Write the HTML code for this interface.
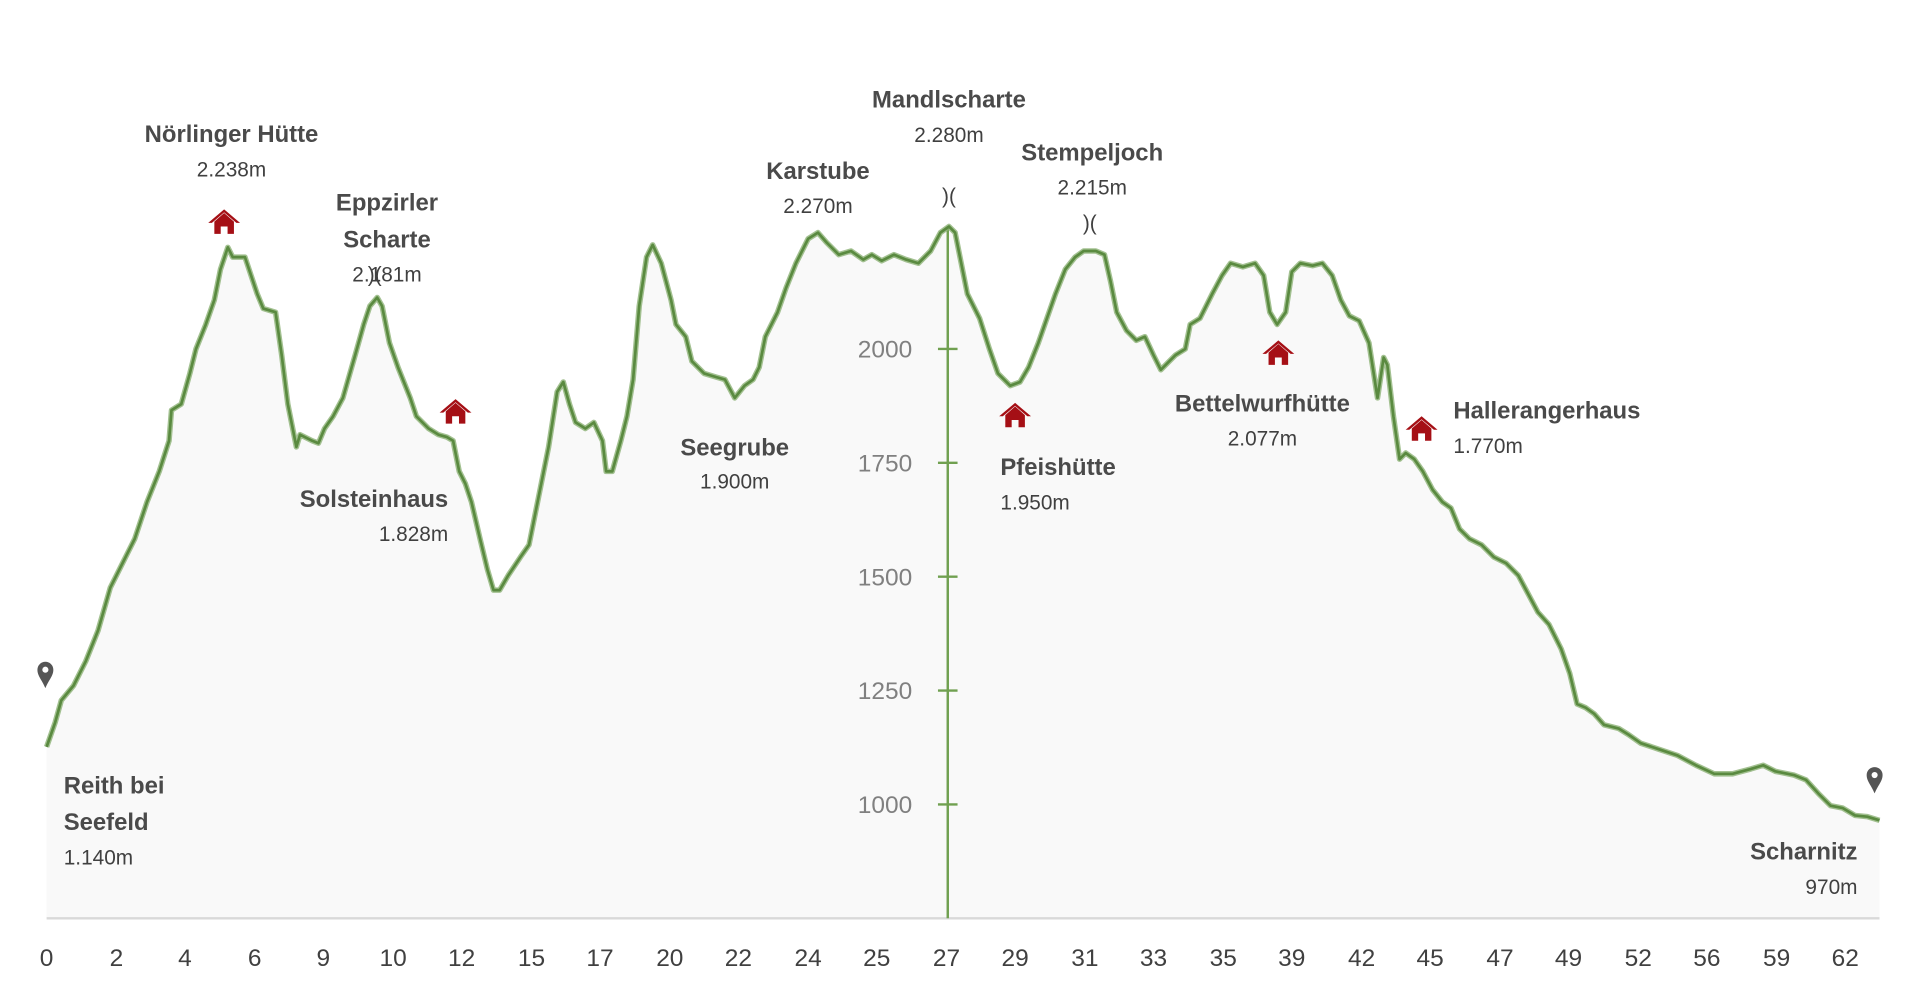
<!DOCTYPE html>
<html><head><meta charset="utf-8"><style>
html,body{margin:0;padding:0;background:#fff;}
svg{display:block;}
text{font-family:"Liberation Sans",sans-serif;}
.b{font-weight:bold;font-size:19.5px;fill:#4a4a4a;}
.v{font-size:17px;fill:#404040;}
.x{font-size:20px;fill:#404040;text-anchor:middle;}
.y{font-size:20px;fill:#808080;text-anchor:end;}
</style></head><body>
<svg width="1920" height="1004" viewBox="0 0 1568 820" xmlns="http://www.w3.org/2000/svg">
<defs>
<g id="h"><polygon points="-13,0 0,-11 13,0 10,0 0,-8.5 -10,0" fill="#a50f15"/><path d="M-8,-1 L0,-8 L8,-1 L8,9 L2.8,9 L2.8,3 L-2.8,3 L-2.8,9 L-8,9Z" fill="#a50f15"/></g>
<g id="p"><path d="M0,12 C-3,5 -6.5,2 -6.5,-3 A6.5,6.5 0 0 1 6.5,-3 C6.5,2 3,5 0,12Z" fill="#555"/><circle cx="0" cy="-3" r="2.5" fill="#fff"/></g>
</defs>
<polygon fill="#f9f9f9" points="38,750 38,610 45,590 50,572 60,560 70,540 80,515 90,480 100,460 110,440 120,410 130,385 138,360 140,335 148,330 155,305 160,285 168,265 175,245 180,220 186,202 190,210 200,210 205,225 210,240 215,252 225,255 230,290 235,330 242,365 245,355 255,360 260,362 265,350 272,340 280,325 290,290 297,265 302,250 308,243 312,250 318,280 325,300 335,325 340,340 350,350 358,355 365,357 370,360 375,385 380,395 385,410 392,440 398,465 403,482 408,482 415,470 425,455 432,445 440,405 448,365 455,320 460,312 465,330 470,345 478,350 485,345 492,360 495,385 500,385 507,360 512,340 517,310 522,250 528,210 533,200 540,215 548,245 552,265 560,275 565,295 575,305 585,308 592,310 600,325 608,315 615,310 620,300 625,275 635,255 642,235 650,215 660,195 668,190 675,198 685,208 695,205 705,212 712,208 720,213 730,208 740,212 750,215 760,205 768,190 775,185 780,190 785,215 790,240 800,260 808,285 815,305 825,315 833,312 840,300 848,280 855,260 862,240 870,220 878,210 885,205 895,205 902,208 907,230 912,255 920,270 928,278 935,275 942,290 948,302 955,295 960,290 968,285 972,265 980,260 990,240 998,225 1005,215 1015,218 1025,215 1032,225 1037,255 1043,265 1050,255 1055,222 1062,215 1072,217 1080,215 1088,225 1095,245 1102,258 1110,262 1118,280 1125,325 1130,292 1133,298 1138,340 1143,375 1148,370 1155,375 1162,385 1170,400 1178,410 1185,415 1192,432 1200,440 1210,445 1220,455 1230,460 1240,470 1248,485 1256,500 1265,510 1275,530 1282,550 1288,575 1295,578 1302,583 1310,592 1322,595 1330,600 1340,607 1355,612 1370,617 1385,625 1400,632 1415,632 1430,628 1440,625 1450,630 1465,633 1475,637 1485,648 1495,658 1505,660 1515,666 1525,667 1535,670 1535,750"/>
<line x1="38" y1="750" x2="1535" y2="750" stroke="#d9d9d9" stroke-width="2"/>
<line x1="774" y1="185" x2="774" y2="750" stroke="#70a050" stroke-width="2"/>
<g stroke="#70a050" stroke-width="2"><line x1="766" y1="285" x2="782" y2="285"/><line x1="766" y1="378" x2="782" y2="378"/><line x1="766" y1="471" x2="782" y2="471"/><line x1="766" y1="564" x2="782" y2="564"/><line x1="766" y1="657" x2="782" y2="657"/></g>
<g class="y"><text x="745" y="292">2000</text><text x="745" y="385">1750</text><text x="745" y="478">1500</text><text x="745" y="571">1250</text><text x="745" y="664">1000</text></g>
<polyline fill="none" stroke="#8cb276" stroke-width="4.5" stroke-linejoin="round" opacity="0.8" points="38,610 45,590 50,572 60,560 70,540 80,515 90,480 100,460 110,440 120,410 130,385 138,360 140,335 148,330 155,305 160,285 168,265 175,245 180,220 186,202 190,210 200,210 205,225 210,240 215,252 225,255 230,290 235,330 242,365 245,355 255,360 260,362 265,350 272,340 280,325 290,290 297,265 302,250 308,243 312,250 318,280 325,300 335,325 340,340 350,350 358,355 365,357 370,360 375,385 380,395 385,410 392,440 398,465 403,482 408,482 415,470 425,455 432,445 440,405 448,365 455,320 460,312 465,330 470,345 478,350 485,345 492,360 495,385 500,385 507,360 512,340 517,310 522,250 528,210 533,200 540,215 548,245 552,265 560,275 565,295 575,305 585,308 592,310 600,325 608,315 615,310 620,300 625,275 635,255 642,235 650,215 660,195 668,190 675,198 685,208 695,205 705,212 712,208 720,213 730,208 740,212 750,215 760,205 768,190 775,185 780,190 785,215 790,240 800,260 808,285 815,305 825,315 833,312 840,300 848,280 855,260 862,240 870,220 878,210 885,205 895,205 902,208 907,230 912,255 920,270 928,278 935,275 942,290 948,302 955,295 960,290 968,285 972,265 980,260 990,240 998,225 1005,215 1015,218 1025,215 1032,225 1037,255 1043,265 1050,255 1055,222 1062,215 1072,217 1080,215 1088,225 1095,245 1102,258 1110,262 1118,280 1125,325 1130,292 1133,298 1138,340 1143,375 1148,370 1155,375 1162,385 1170,400 1178,410 1185,415 1192,432 1200,440 1210,445 1220,455 1230,460 1240,470 1248,485 1256,500 1265,510 1275,530 1282,550 1288,575 1295,578 1302,583 1310,592 1322,595 1330,600 1340,607 1355,612 1370,617 1385,625 1400,632 1415,632 1430,628 1440,625 1450,630 1465,633 1475,637 1485,648 1495,658 1505,660 1515,666 1525,667 1535,670"/>
<polyline fill="none" stroke="#5a8a40" stroke-width="2.2" stroke-linejoin="round" points="38,610 45,590 50,572 60,560 70,540 80,515 90,480 100,460 110,440 120,410 130,385 138,360 140,335 148,330 155,305 160,285 168,265 175,245 180,220 186,202 190,210 200,210 205,225 210,240 215,252 225,255 230,290 235,330 242,365 245,355 255,360 260,362 265,350 272,340 280,325 290,290 297,265 302,250 308,243 312,250 318,280 325,300 335,325 340,340 350,350 358,355 365,357 370,360 375,385 380,395 385,410 392,440 398,465 403,482 408,482 415,470 425,455 432,445 440,405 448,365 455,320 460,312 465,330 470,345 478,350 485,345 492,360 495,385 500,385 507,360 512,340 517,310 522,250 528,210 533,200 540,215 548,245 552,265 560,275 565,295 575,305 585,308 592,310 600,325 608,315 615,310 620,300 625,275 635,255 642,235 650,215 660,195 668,190 675,198 685,208 695,205 705,212 712,208 720,213 730,208 740,212 750,215 760,205 768,190 775,185 780,190 785,215 790,240 800,260 808,285 815,305 825,315 833,312 840,300 848,280 855,260 862,240 870,220 878,210 885,205 895,205 902,208 907,230 912,255 920,270 928,278 935,275 942,290 948,302 955,295 960,290 968,285 972,265 980,260 990,240 998,225 1005,215 1015,218 1025,215 1032,225 1037,255 1043,265 1050,255 1055,222 1062,215 1072,217 1080,215 1088,225 1095,245 1102,258 1110,262 1118,280 1125,325 1130,292 1133,298 1138,340 1143,375 1148,370 1155,375 1162,385 1170,400 1178,410 1185,415 1192,432 1200,440 1210,445 1220,455 1230,460 1240,470 1248,485 1256,500 1265,510 1275,530 1282,550 1288,575 1295,578 1302,583 1310,592 1322,595 1330,600 1340,607 1355,612 1370,617 1385,625 1400,632 1415,632 1430,628 1440,625 1450,630 1465,633 1475,637 1485,648 1495,658 1505,660 1515,666 1525,667 1535,670"/>
<use href="#h" x="183" y="182"/><use href="#h" x="372" y="337"/><use href="#h" x="829" y="340"/><use href="#h" x="1044" y="289"/><use href="#h" x="1161" y="351"/>
<use href="#p" x="37" y="550"/><use href="#p" x="1531" y="636"/>
<g text-anchor="middle">
<text class="b" x="189" y="116">Nörlinger Hütte</text><text class="v" x="189" y="144">2.238m</text>
<text class="b" x="316" y="172">Eppzirler</text><text class="b" x="316" y="202">Scharte</text><text class="v" x="316" y="230">2.181m</text><text class="v" x="306" y="230">)(</text>
<text class="b" x="600" y="372">Seegrube</text><text class="v" x="600" y="399">1.900m</text>
<text class="b" x="668" y="146">Karstube</text><text class="v" x="668" y="174">2.270m</text>
<text class="b" x="775" y="88">Mandlscharte</text><text class="v" x="775" y="116">2.280m</text><text class="v" x="775" y="166">)(</text>
<text class="b" x="892" y="131">Stempeljoch</text><text class="v" x="892" y="159">2.215m</text><text class="v" x="890" y="188">)(</text>
<text class="b" x="1031" y="336">Bettelwurfhütte</text><text class="v" x="1031" y="364">2.077m</text>
</g>
<g text-anchor="end">
<text class="b" x="366" y="414">Solsteinhaus</text><text class="v" x="366" y="442">1.828m</text>
<text class="b" x="1517" y="702">Scharnitz</text><text class="v" x="1517" y="730">970m</text>
</g>
<text class="b" x="52" y="648">Reith bei</text><text class="b" x="52" y="678">Seefeld</text><text class="v" x="52" y="706">1.140m</text>
<text class="b" x="817" y="388">Pfeishütte</text><text class="v" x="817" y="416">1.950m</text>
<text class="b" x="1187" y="342">Hallerangerhaus</text><text class="v" x="1187" y="370">1.770m</text>
<g class="x">
<text x="38" y="789">0</text><text x="95" y="789">2</text><text x="151" y="789">4</text><text x="208" y="789">6</text><text x="264" y="789">9</text><text x="321" y="789">10</text><text x="377" y="789">12</text><text x="434" y="789">15</text><text x="490" y="789">17</text><text x="547" y="789">20</text><text x="603" y="789">22</text><text x="660" y="789">24</text><text x="716" y="789">25</text><text x="773" y="789">27</text><text x="829" y="789">29</text><text x="886" y="789">31</text><text x="942" y="789">33</text><text x="999" y="789">35</text><text x="1055" y="789">39</text><text x="1112" y="789">42</text><text x="1168" y="789">45</text><text x="1225" y="789">47</text><text x="1281" y="789">49</text><text x="1338" y="789">52</text><text x="1394" y="789">56</text><text x="1451" y="789">59</text><text x="1507" y="789">62</text>
</g>
</svg>
</body></html>
